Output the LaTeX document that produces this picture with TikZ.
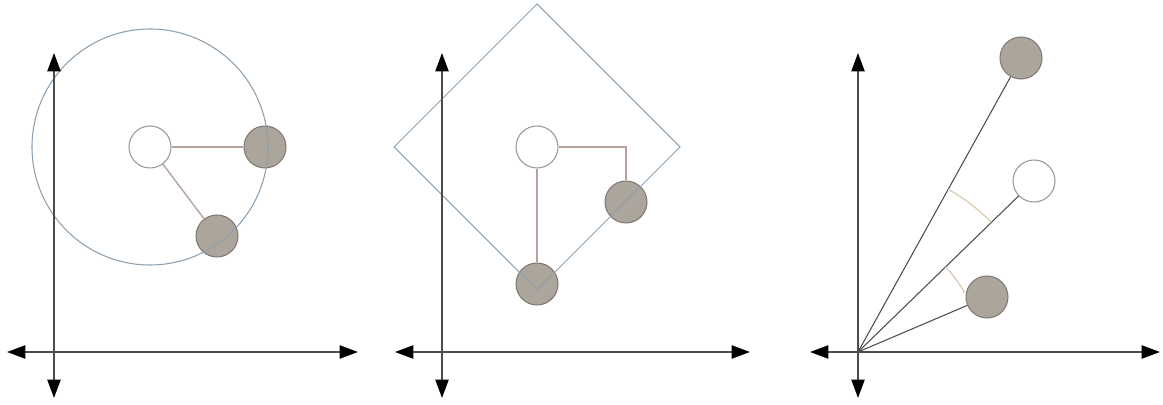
\documentclass[tikz,border=0pt]{standalone}
\usetikzlibrary{arrows.meta}

\definecolor{stone}{HTML}{ABA59C}
\definecolor{rim}{HTML}{7F7A75}
\definecolor{orbitblue}{HTML}{8CA0B0}
\definecolor{rosytan}{HTML}{B5A29A}
\definecolor{paletan}{HTML}{D9C9B2}

\begin{document}
\begin{tikzpicture}[
    x=0.02cm,y=0.02cm,
    >={Triangle[length=10.5pt,width=7.5pt,black]},
    axis/.style={<->,black!70,line width=1.1pt},
    ball/.style={circle,draw=#1,line width=0.6pt,minimum size=0.84cm,inner sep=0pt},
    moving/.style={ball=rim,fill=stone},
    fixed/.style={ball=gray!80,fill=white},
    link/.style={rosytan,line width=0.8pt},
    orbit/.style={orbitblue,line width=0.6pt},
    ray/.style={black!70,line width=0.6pt},
    gauge/.style={paletan,line width=0.7pt},
]
\useasboundingbox (0,0) rectangle (1163,405);

% === Left: rotation about a point ===
\begin{scope}
    \coordinate (xl1) at (7,53);  \coordinate (xr1) at (358,53);
    \coordinate (yb1) at (54,7);  \coordinate (yt1) at (54,352);
    \node[fixed]  (c1) at (150,258) {};
    \node[moving] (a1) at (265,258) {};
    \node[moving] (b1) at (217,169) {};
    \draw[link] (c1) -- (a1);
    \draw[link] (c1) -- (b1);
    \draw[orbit] (c1.center) circle[radius=118];
    \draw[axis] (xl1) -- (xr1);
    \draw[axis] (yb1) -- (yt1);
\end{scope}

% === Middle: square around the point ===
\begin{scope}
    \coordinate (xl2) at (395,53); \coordinate (xr2) at (750,53);
    \coordinate (yb2) at (442,7);  \coordinate (yt2) at (442,352);
    \node[fixed]  (c2) at (537,258) {};
    \node[moving] (a2) at (626,203) {};
    \node[moving] (b2) at (537,121) {};
    \draw[link] (c2) -- (b2);
    \draw[link] (c2) -| (a2);
    \draw[orbit] (c2.center) ++(0,143) -- ++(143,-143) -- ++(-143,-143)
        -- ++(-143,143) -- cycle;
    \draw[axis] (xl2) -- (xr2);
    \draw[axis] (yb2) -- (yt2);
\end{scope}

% === Right: angles from the origin ===
\begin{scope}
    \coordinate (o3) at (858,53);
    \coordinate (xl3) at (810,53); \coordinate (xr3) at (1160,53);
    \coordinate (yb3) at (858,7);  \coordinate (yt3) at (858,352);
    \node[moving] (t3) at (1021,347) {};
    \node[fixed]  (w3) at (1034,224) {};
    \node[moving] (l3) at (987,108) {};
    \draw[ray] (o3) -- (t3);
    \draw[ray] (o3) -- (w3);
    \draw[ray] (o3) -- (l3);
    \draw[gauge] (o3) ++(61:186) arc[start angle=61,end angle=44.2,radius=186];
    \draw[gauge] (o3) ++(44.2:122) arc[start angle=44.2,end angle=29,radius=122];
    \draw[axis] (xl3) -- (xr3);
    \draw[axis] (yb3) -- (yt3);
\end{scope}
\end{tikzpicture}
\end{document}
